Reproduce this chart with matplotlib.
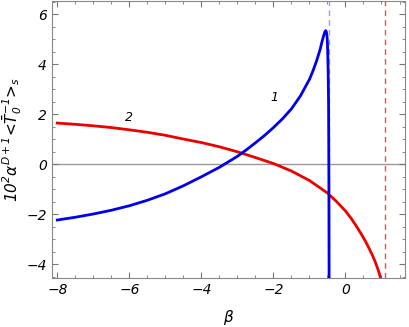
import numpy as np
import matplotlib
matplotlib.use("Agg")
import matplotlib.pyplot as plt
from matplotlib.ticker import MultipleLocator

plt.rcParams["font.style"] = "italic"
plt.rcParams["mathtext.default"] = "it"

# curve 1 (blue)
beta_1 = [-8.0, -7.5, -7.0, -6.5, -6.0, -5.5, -5.0, -4.5, -4.0, -3.5, -3.0,
          -2.75, -2.5, -2.25, -2.0, -1.75, -1.5, -1.25, -1.0, -0.9, -0.8,
          -0.7, -0.65, -0.6, -0.57, -0.55, -0.53, -0.51, -0.5, -0.49, -0.48,
          -0.47, -0.465, -0.46, -0.455]
val_1 = [-2.23, -2.12, -1.99, -1.84, -1.66, -1.44, -1.18, -0.86, -0.5, -0.12, 0.32,
         0.58, 0.86, 1.15, 1.47, 1.82, 2.22, 2.74, 3.4, 3.75, 4.15,
         4.62, 4.92, 5.18, 5.31, 5.35, 5.3, 5.1, 4.8, 4.3, 3.6,
         2.5, 1.0, -1.0, -4.6]

# curve 2 (red)
beta_2 = [-8.0, -7.5, -7.0, -6.5, -6.0, -5.5, -5.0, -4.5, -4.0, -3.5, -3.0,
          -2.5, -2.0, -1.5, -1.0, -0.5, -0.25, 0.0, 0.15, 0.3, 0.45, 0.55,
          0.65, 0.75, 0.83, 0.9, 0.95, 1.0]
val_2 = [1.65, 1.6, 1.54, 1.47, 1.38, 1.28, 1.16, 1.01, 0.87, 0.7, 0.5,
         0.27, 0.03, -0.27, -0.65, -1.15, -1.49, -1.87, -2.15, -2.47, -2.82, -3.07,
         -3.35, -3.65, -3.92, -4.2, -4.43, -4.7]

# vertical asymptotes
asym_1 = -0.45
asym_2 = 1.1

labels = ["1", "2"]
label_pos = [(-1.97, 2.67), (-6.02, 1.86)]

fig = plt.figure(figsize=(4.09, 3.27), dpi=100)
ax = fig.add_axes([0.127, 0.150, 0.863, 0.848])

ax.axhline(0, color="#999999", lw=1.0, zorder=1)
ax.axvline(asym_1, color="#9999ff", lw=1.0, ls=(0, (4, 3)), zorder=1)
ax.axvline(asym_2, color="#ff4444", lw=1.0, ls=(0, (4, 3)), zorder=1)

ax.plot(beta_1, val_1, color="#0000ee", lw=2.0, zorder=3)
ax.plot(beta_2, val_2, color="#ee0000", lw=2.0, zorder=2)

for lab, (x, y) in zip(labels, label_pos):
    ax.text(x, y, lab, fontsize=9, ha="center", va="center")

ax.set_xlim(-8.15, 1.65)
ax.set_ylim(-4.55, 6.55)
ax.xaxis.set_major_locator(MultipleLocator(2))
ax.xaxis.set_minor_locator(MultipleLocator(0.5))
ax.yaxis.set_major_locator(MultipleLocator(2))
ax.yaxis.set_minor_locator(MultipleLocator(0.5))
ax.tick_params(which="both", direction="in", top=True, right=True,
               color="#777777", labelsize=10)
ax.tick_params(which="major", length=4, width=0.8)
ax.tick_params(which="minor", length=2, width=0.6)
for s in ax.spines.values():
    s.set_color("#888888")

ax.set_xlabel(r"$\beta$", fontsize=11, labelpad=8)
ax.set_ylabel(r"$10^2\alpha^{D+1}$<$\bar{T}_0^{-1}$>$_s$", fontsize=11, labelpad=2)

fig.savefig("out.png", dpi=100)
